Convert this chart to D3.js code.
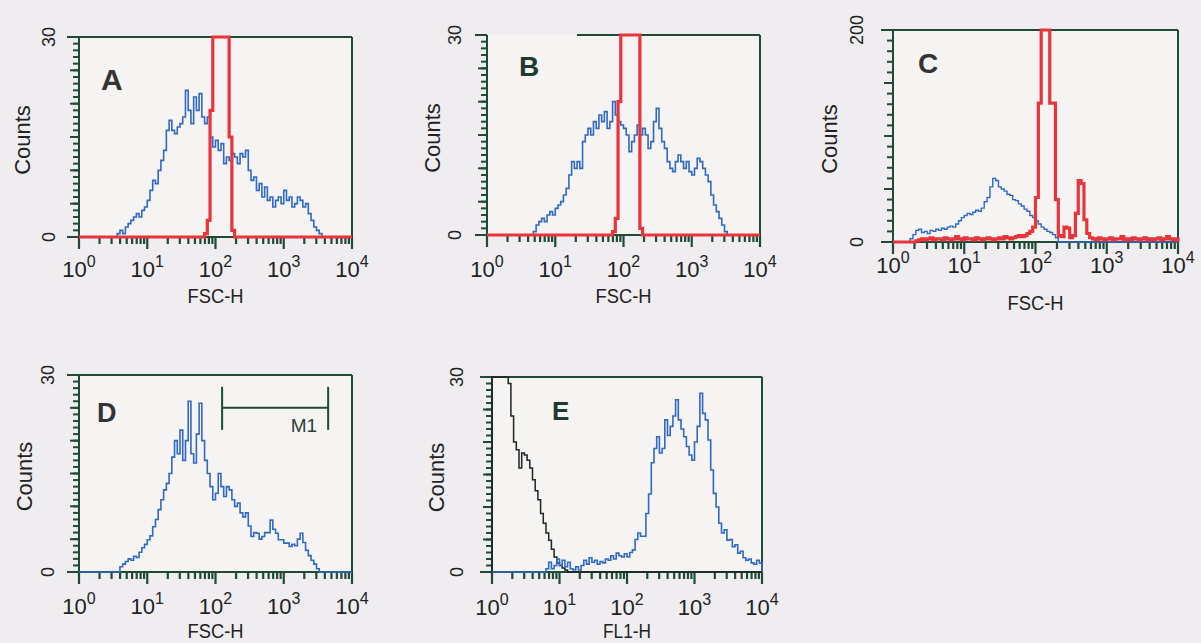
<!DOCTYPE html>
<html>
<head>
<meta charset="utf-8">
<script src="https://cdn.jsdelivr.net/npm/d3@7"></script>
<style>
	body { margin: 0; background: #efedf0; }
	svg { display: block; font-family: "Liberation Sans", Arial, sans-serif; }
</style>
</head>
<body>
<svg id="chart" width="1201" height="643"></svg>
<script>
// histogram channels: each bin is 0.04 decade wide, 100 bins from 10^0 to 10^4
const BIN = 0.04;
const decades = [0, 1, 2, 3, 4];

// A: FSC-H, sample (blue) and beads (red)
const aBlueFrom = 14;
const aBlue = [0.5, 1, 0.5, 1.5, 2, 2.5, 3, 3.5, 3, 4,
	4.5, 5.5, 7, 8.5, 8, 10, 11.5, 13, 16, 17.5,
	16, 15.5, 16.5, 17, 18, 22, 19, 17, 21, 19,
	21.5, 18, 17, 18, 15, 13.5, 14.5, 13, 14, 11,
	12, 11.5, 12.5, 12, 11, 12.5, 12, 13, 10, 8.5,
	9, 7, 8, 6, 7.5, 5.5, 6, 4.5, 5.5, 6,
	5, 7, 5.5, 6, 4.5, 5, 6, 5.5, 4.5, 5,
	3.5, 2.5, 1.5, 1, 0.5];
const aRedFrom = 46;
const aRed = [0.5, 2.5, 19, 45, 60, 60, 60, 60, 60, 15, 1];

// B
const bBlueFrom = 17;
const bBlue = [0.5, 1.5, 2, 2.5, 2, 3, 3.5, 3, 4, 4.5,
	5, 6, 7, 9, 11, 10, 11, 10, 14, 15,
	16, 15, 17, 16, 18, 17, 18.5, 16, 17, 20,
	18, 17, 16.5, 16, 15, 12.5, 14, 15, 16.5, 15,
	16, 15, 13, 14, 17, 19, 16, 14, 13, 11,
	10, 9.5, 11, 12, 11, 10, 11, 9.5, 9, 10,
	11.5, 11, 10, 9, 8, 6, 4.5, 3.5, 2.5, 1.5,
	0.5];
const bRedFrom = 46;
const bRed = [0.5, 2.5, 20, 50, 60, 60, 60, 60, 60, 40, 1];

// C (counts up to 200)
const cBlueFrom = 6;
const cBlue = [3, 7, 11, 12, 9, 10, 8, 11, 10, 12,
	11, 13, 12, 14, 15, 14, 17, 20, 23, 25,
	27, 26, 28, 30, 29, 32, 38, 42, 52, 60,
	58, 52, 50, 48, 45, 44, 40, 39, 36, 34,
	31, 29, 25, 23, 20, 17, 14, 12, 10, 9,
	7, 4];
const cRedFrom = 0;
const cRed = [0, 0, 0, 0, 0, 0, 0, 0,
	1, 2, 3, 2, 3, 4, 2, 3, 3, 2, 4, 3, 2, 3, 5, 3, 2, 4, 3, 3,
	2, 4, 3, 2, 3, 4, 3, 2, 3, 4, 3, 5, 4, 3, 4, 5, 6, 5, 6, 8,
	10, 14, 42, 131, 240, 250, 240, 131, 131, 40, 6, 5, 14, 13, 4, 6, 27, 58, 55, 21, 8, 4,
	3, 2, 4, 3, 2, 3, 4, 2, 3, 3, 5, 2, 3, 2, 4, 3, 2, 3, 4, 2,
	3, 2, 3, 4, 2, 3, 5, 3, 2, 3];

// D with the M1 marker region
const dBlueFrom = 15;
const dBlue = [0.8, 1.2, 1.6, 2, 1.8, 2.4, 2.2, 3, 3.7, 4.2,
	4.9, 5.5, 6.9, 8, 9.5, 11, 12.5, 13.5, 15, 17.5,
	20, 18, 21.6, 17, 20, 26, 18, 16.6, 21, 25.7,
	20, 17, 15, 13, 11, 12, 15, 13, 11.5, 13,
	12.5, 11, 10, 10.5, 9, 8.4, 9, 7, 5.4, 6,
	5.9, 5, 5.4, 6, 6, 7.9, 6.5, 5.9, 4.9, 4.9,
	4.4, 4.4, 3.9, 4.2, 4, 5, 5.9, 4.5, 3.3, 2.5,
	1.8, 1.2, 0.5];
const m1Range = [125, 4470];
const m1Count = 25;

// E: FL1-H, control (black) and stained (blue)
const eBlackFrom = 0;
const eBlack = [40, 40, 40, 40, 40, 40, 29, 24, 20, 18.8,
	16, 18.3, 18, 17.2, 16, 14.2, 12.5, 11.1, 9, 7.5,
	6, 4.9, 3.5, 2.3, 1.4, 1, 0.6, 0.3];
const eBlueFrom = 20;
const eBlue = [0.5, 1.5, 0.5, 1, 2, 1, 1.8, 0.8, 1.5, 0.5,
	0.3, 0.8, 0.3, 1, 1.8, 1.2, 2.2, 1.5, 1.8, 1.2,
	1.6, 1.4, 2, 1.8, 2.5, 2, 2.9, 2.5, 2.3, 2.8,
	2.3, 3, 3.4, 5, 6, 5.5, 5.5, 9, 12, 16.8,
	19, 20.8, 18.3, 19, 23.4, 21, 22.4, 24, 26.5, 23.4,
	22, 20.8, 19.3, 18, 17.2, 20, 22.4, 27.5, 24.4, 23.4,
	20.3, 15.7, 12.1, 10, 7.5, 6, 6.5, 4.9, 5, 3.9,
	4.2, 2.9, 3.2, 2.2, 1.8, 2, 1.4, 1.2, 1.8, 1.4];

const countTicks = [0, 30];
const countTicksC = [0, 200];

const FRAME = '#1e4a36';
const BLUE = '#3069c4';
const RED = '#e8353c';
const BLACK = '#1c2622';

const panels = [
	{ letter: 'A', box: [79, 37, 352, 237], yMax: 30, yTicks: countTicks, yMinor: 1, yMajor: 5,
		xTitle: 'FSC-H', letterAt: [22, 53, 30, '#333'], tickDy: 40, titleDy: 66, countsDx: -57, yLabDx: -31,
		series: [[aBlueFrom, aBlue, BLUE, 1.6], [aRedFrom, aRed, RED, 3.2]] },
	{ letter: 'B', box: [487, 35, 760, 235], yMax: 30, yTicks: countTicks, yMinor: 1, yMajor: 5, topGap: 90,
		xTitle: 'FSC-H', letterAt: [32, 41, 28, '#1f3a2e'], tickDy: 42, titleDy: 68, countsDx: -55, yLabDx: -33,
		series: [[bBlueFrom, bBlue, BLUE, 1.6], [bRedFrom, bRed, RED, 3.2]] },
	{ letter: 'C', box: [893, 30, 1178, 242], yMax: 200, yTicks: countTicksC, yMinor: 10, yMajor: 50,
		xTitle: 'FSC-H', letterAt: [25, 43, 28, '#333'], tickDy: 31, titleDy: 68, countsDx: -64, yLabDx: -37,
		series: [[cBlueFrom, cBlue, BLUE, 1.4], [cRedFrom, cRed, RED, 3.2]] },
	{ letter: 'D', box: [79, 375, 352, 572], yMax: 30, yTicks: countTicks, yMinor: 1, yMajor: 5,
		xTitle: 'FSC-H', letterAt: [18, 47, 27, '#333'], tickDy: 42, titleDy: 66, countsDx: -55, yLabDx: -32,
		series: [[dBlueFrom, dBlue, BLUE, 1.6]], marker: true },
	{ letter: 'E', box: [492, 377, 762, 572], yMax: 30, yTicks: countTicks, yMinor: 1, yMajor: 5,
		xTitle: 'FL1-H', letterAt: [60, 43, 26, '#1f3a2e'], tickDy: 43, titleDy: 66, countsDx: -56, yLabDx: -36,
		series: [[eBlackFrom, eBlack, BLACK, 1.5], [eBlueFrom, eBlue, BLUE, 1.6]] }
];

const svg = d3.select('#chart');

// log minor tick positions: 2..9 x 10^k
const minorX = [];
for (let k = 0; k < 4; k++)
	for (let m = 2; m < 10; m++)
		minorX.push(m * Math.pow(10, k));

for (let p of panels) {
	const [L, T, R, B] = p.box;
	const x = d3.scaleLog().domain([1, 1e4]).range([L, R]);
	const y = d3.scaleLinear().domain([0, p.yMax]).range([B, T]).clamp(true);
	const g = svg.append('g');

	g.append('rect')
		.attr('x', L).attr('y', T)
		.attr('width', R - L).attr('height', B - T)
		.attr('fill', '#f5f4f3');

	// frame
	const frame = g.append('g').attr('stroke', FRAME).attr('stroke-width', 2).attr('fill', 'none');
	frame.append('line').attr('x1', L + (p.topGap || 0)).attr('x2', R).attr('y1', T).attr('y2', T);
	frame.append('line').attr('x1', L).attr('x2', R).attr('y1', B).attr('y2', B);
	frame.append('line').attr('x1', L).attr('x2', L).attr('y1', T).attr('y2', B);
	frame.append('line').attr('x1', R).attr('x2', R).attr('y1', T).attr('y2', B);

	// tick marks: y ticks left of the frame, x ticks below it
	const yTick = (vals, size) => g.append('g').selectAll('line')
		.data(vals).join('line')
		.attr('x1', L).attr('x2', L - size)
		.attr('y1', v => y(v)).attr('y2', v => y(v))
		.attr('stroke', FRAME).attr('stroke-width', 2);
	yTick(d3.range(0, p.yMax + 1e-9, p.yMinor), 6);
	yTick(d3.range(0, p.yMax + 1e-9, p.yMajor), 9);
	yTick(p.yTicks, 12);

	const xTick = (vals, size) => g.append('g').selectAll('line')
		.data(vals).join('line')
		.attr('x1', v => x(v)).attr('x2', v => x(v))
		.attr('y1', B).attr('y2', B + size)
		.attr('stroke', FRAME).attr('stroke-width', 2.2);
	xTick(minorX, 7);
	xTick(decades.map(d => Math.pow(10, d)), 12);

	// histograms as step lines
	const line = d3.line()
		.x(d => x(d[0]))
		.y(d => y(d[1]))
		.curve(d3.curveStepAfter);

	for (let [from, counts, color, width] of p.series) {
		const full = new Array(100).fill(0);
		counts.forEach((c, i) => full[from + i] = c);
		const pts = [[1, 0]];
		full.forEach((c, i) => pts.push([Math.pow(10, i * BIN), c]));
		pts.push([1e4, full[99]], [1e4, 0]);
		g.append('path')
			.datum(pts)
			.attr('d', line)
			.attr('fill', 'none')
			.attr('stroke', color)
			.attr('stroke-width', width)
			.attr('stroke-linejoin', 'miter');
	}

	// x tick labels 10^k
	for (let d of decades) {
		const t = g.append('text')
			.attr('x', x(Math.pow(10, d)))
			.attr('y', B + p.tickDy)
			.attr('text-anchor', 'middle')
			.attr('font-size', 22)
			.attr('fill', '#222');
		t.append('tspan').text('10');
		t.append('tspan').attr('dy', -10).attr('font-size', 16).text(d);
	}

	g.append('text')
		.attr('x', (L + R) / 2)
		.attr('y', B + p.titleDy)
		.attr('text-anchor', 'middle')
		.attr('font-size', 20)
		.attr('textLength', p.xTitle === 'FSC-H' ? 56 : 48)
		.attr('lengthAdjust', 'spacingAndGlyphs')
		.attr('fill', '#222')
		.text(p.xTitle);

	// y tick labels, rotated
	for (let v of p.yTicks) {
		g.append('text')
			.attr('transform', `translate(${L + p.yLabDx + 7},${y(v)}) rotate(-90)`)
			.attr('text-anchor', 'middle')
			.attr('font-size', 18)
			.attr('fill', '#222')
			.text(v);
	}

	g.append('text')
		.attr('transform', `translate(${L + p.countsDx + 8},${(T + B) / 2 + 3}) rotate(-90)`)
		.attr('text-anchor', 'middle')
		.attr('font-size', 22)
		.attr('fill', '#222')
		.text('Counts');

	const [lx, ly, ls, lc] = p.letterAt;
	g.append('text')
		.attr('x', L + lx)
		.attr('y', T + ly)
		.attr('font-size', ls)
		.attr('font-weight', 'bold')
		.attr('fill', lc)
		.text(p.letter);

	if (p.marker) {
		const my = y(m1Count);
		const mk = g.append('g').attr('stroke', FRAME).attr('stroke-width', 2);
		mk.append('line').attr('x1', x(m1Range[0])).attr('x2', x(m1Range[1])).attr('y1', my).attr('y2', my);
		for (let v of m1Range)
			mk.append('line').attr('x1', x(v)).attr('x2', x(v)).attr('y1', my - 21).attr('y2', my + 22);
		g.append('text')
			.attr('x', x(m1Range[1]) - 11)
			.attr('y', my + 24)
			.attr('text-anchor', 'end')
			.attr('font-size', 19)
			.attr('fill', '#2a3f34')
			.text('M1');
	}
}
</script>
</body>
</html>
